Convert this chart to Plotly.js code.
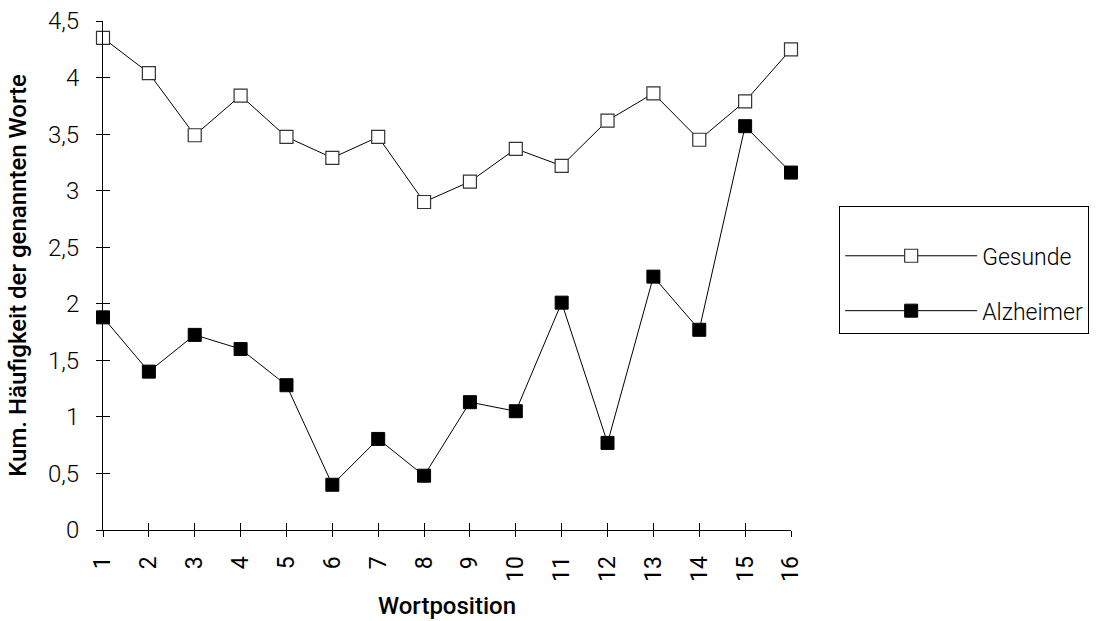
<!DOCTYPE html>
<html>
<head>
<meta charset="utf-8">
<script src="https://cdn.plot.ly/plotly-3.0.1.min.js"></script>
<style>
  html, body { margin: 0; padding: 0; background: #fff; }
  #chart { width: 1105px; height: 621px; }
</style>
</head>
<body>
<div id="chart"></div>
<script>
// Word positions 1..16
const positions = [1, 2, 3, 4, 5, 6, 7, 8, 9, 10, 11, 12, 13, 14, 15, 16];
const tickLabels = positions.map(String);

// Cumulative frequency of named words per group
const gesunde = [4.35, 4.04, 3.49, 3.84, 3.475, 3.29, 3.475, 2.90, 3.08, 3.37, 3.22, 3.62, 3.86, 3.45, 3.79, 4.25];
const alzheimer = [1.88, 1.40, 1.725, 1.60, 1.28, 0.40, 0.805, 0.48, 1.13, 1.05, 2.01, 0.77, 2.24, 1.77, 3.57, 3.16];

const yTicks = [0, 0.5, 1, 1.5, 2, 2.5, 3, 3.5, 4, 4.5];

const FAM = 'Roboto, Liberation Sans, Arial, sans-serif';
const BLACK = '#000';

const traces = [
  {
    x: positions, y: gesunde, name: 'Gesunde', type: 'scatter', mode: 'lines+markers',
    line: { color: BLACK, width: 1 },
    marker: { symbol: 'square', size: 13, color: '#fff', line: { color: '#333', width: 1.2 } },
    cliponaxis: false, legendgroup: 'g', hoverinfo: 'x+y'
  },
  {
    x: positions, y: alzheimer, name: 'Alzheimer', type: 'scatter', mode: 'lines+markers',
    line: { color: BLACK, width: 1 },
    marker: { symbol: 'square', size: 13, color: BLACK, line: { color: BLACK, width: 1 } },
    cliponaxis: false, legendgroup: 'a', hoverinfo: 'x+y'
  },
  // carrier for the overlaid axes that draw the inner half of the crossing ticks
  {
    x: [positions[0]], y: [yTicks[0]], xaxis: 'x2', yaxis: 'y2', type: 'scatter', mode: 'markers',
    marker: { opacity: 0 }, showlegend: false, hoverinfo: 'skip'
  }
];

const layout = {
  width: 1105, height: 621,
  paper_bgcolor: '#fff', plot_bgcolor: '#fff',
  separators: ', ',
  margin: { l: 103, r: 314, t: 21, b: 91 },
  font: { family: FAM, color: BLACK },
  showlegend: true,
  legend: {
    x: 1.070, y: 0.6365, xanchor: 'left', yanchor: 'top',
    bordercolor: BLACK, borderwidth: 1, bgcolor: '#fff',
    font: { family: FAM, size: 23, color: BLACK, weight: 300 },
    title: { text: '\u00a0', font: { family: FAM, size: 21 } },
    itemwidth: 132, traceorder: 'grouped', tracegroupgap: 22,
    itemclick: false, itemdoubleclick: false
  },
  xaxis: {
    range: [1, 16], tickmode: 'array', tickvals: positions, ticktext: tickLabels,
    tickangle: -90, ticks: 'outside', ticklen: 6, tickcolor: BLACK, tickwidth: 1,
    ticklabelstandoff: 10,
    showline: true, linecolor: BLACK, linewidth: 1, showgrid: false, zeroline: false,
    tickfont: { family: FAM, size: 23, color: BLACK },
    title: { text: 'Wortposition', font: { family: FAM, size: 24, color: BLACK, weight: 500 }, standoff: 16 }
  },
  yaxis: {
    range: [0, 4.5], tickmode: 'array', tickvals: yTicks,
    ticks: 'outside', ticklen: 6, tickcolor: BLACK, tickwidth: 1,
    ticklabelstandoff: 12,
    showline: true, linecolor: BLACK, linewidth: 1, showgrid: false, zeroline: false,
    tickfont: { family: FAM, size: 24, color: BLACK, weight: 300 },
    title: { text: 'Kum. Häufigkeit der genannten Worte', font: { family: FAM, size: 24, color: BLACK, weight: 500 }, standoff: 14 }
  },
  xaxis2: {
    overlaying: 'x', range: [1, 16], tickmode: 'array', tickvals: positions,
    ticks: 'inside', ticklen: 7, tickcolor: BLACK, showticklabels: false,
    showgrid: false, zeroline: false, showline: false
  },
  yaxis2: {
    overlaying: 'y', range: [0, 4.5], tickmode: 'array', tickvals: yTicks,
    ticks: 'inside', ticklen: 7, tickcolor: BLACK, showticklabels: false,
    showgrid: false, zeroline: false, showline: false
  }
};

Plotly.newPlot('chart', traces, layout, { staticPlot: true, displayModeBar: false });
</script>
</body>
</html>
